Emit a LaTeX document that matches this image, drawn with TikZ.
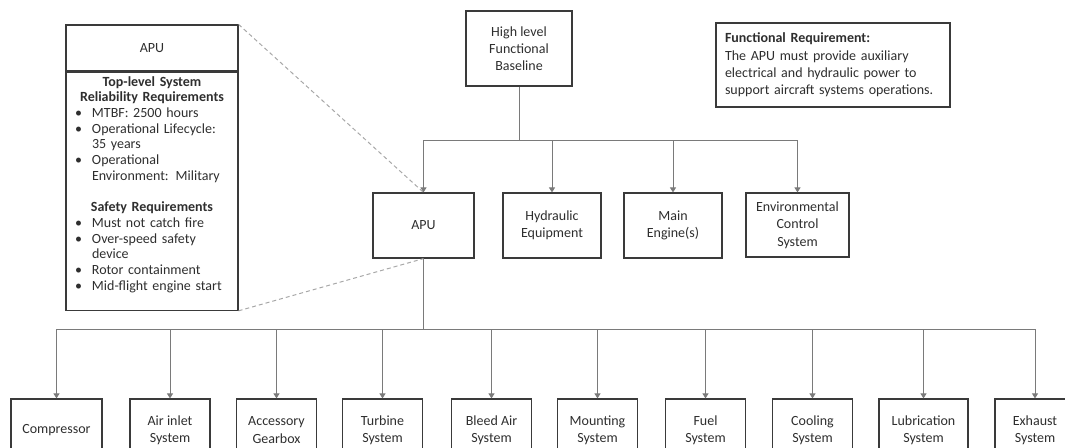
\documentclass[tikz,border=0pt]{standalone}
\usepackage{fontspec}
\setmainfont{Carlito}
\usetikzlibrary{arrows.meta}
\definecolor{boxline}{HTML}{3A3A3A}
\definecolor{txt}{HTML}{2E2E2E}
\definecolor{conn}{HTML}{7A7A7A}
\definecolor{dash}{HTML}{A8A8A8}
\newcommand{\blt}[1]{\par\noindent\makebox[26pt][l]{\hspace{9pt}\textbullet}#1}
\newcommand{\bltc}[1]{\par\noindent\hspace*{26pt}#1}
\tikzset{
  box/.style={draw=boxline, line width=1.2pt, text=txt, align=center, inner sep=2pt,
    font=\fontsize{14}{17.3}\selectfont},
  subbox/.style={box, minimum width=80pt, minimum height=62pt},
  connline/.style={draw=conn, line width=1pt},
  arrowline/.style={connline, -{Triangle[width=6pt,length=5pt]}},
  dashline/.style={draw=dash, line width=1pt, dash pattern=on 4pt off 3pt}
}
\begin{document}
\begin{tikzpicture}[x=1pt,y=-1pt]
\useasboundingbox (0,0) rectangle (1065,447);
% top level
\node[box, minimum width=106pt, minimum height=75pt] (hl) at (519,48.5) {High level\\Functional\\Baseline};
\node[box, text width=216pt, inner xsep=9pt, inner ysep=0pt, minimum height=84pt, align=left] (func) at (833,65)
  {\textbf{Functional Requirement:}\\The APU must provide auxiliary\\electrical and hydraulic power to\\support aircraft systems operations.};
% second level
\node[box, minimum width=101pt, minimum height=65pt] (apu) at (423.5,225.5) {APU};
\node[box, minimum width=98pt, minimum height=65pt] (hyd) at (552,225.5) {Hydraulic\\Equipment};
\node[box, minimum width=98pt, minimum height=65pt] (eng) at (673,225.5) {Main\\Engine(s)};
\node[box, minimum width=103pt, minimum height=64pt] (env) at (797.5,225) {Environmental\\Control\\System};
% detail box
\node[box, minimum width=172pt, minimum height=46pt] (lhead) at (152,48) {APU};
\node[box, minimum width=172pt, minimum height=238pt, anchor=north] (lbody) at (lhead.south) {};
\node[text=txt, text width=172pt, inner sep=0pt, anchor=north, align=left,
  font=\fontsize{14}{15.7}\selectfont] (ltext) at (152,76)
  {{\centering\textbf{Top-level System}\\\textbf{Reliability Requirements}\par}
   \blt{MTBF: 2500 hours}
   \blt{Operational Lifecycle:}
   \bltc{35 years}
   \blt{Operational}
   \bltc{Environment: Military}
   \par\vspace{15.7pt}
   {\centering\textbf{Safety Requirements}\par}
   \blt{Must not catch fire}
   \blt{Over-speed safety}
   \bltc{device}
   \blt{Rotor containment}
   \blt{Mid-flight engine start}\par};
% subsystems
\node[subbox, minimum width=91pt] (comp) at (56.5,430) {Compressor};
\node[subbox] (air) at (170,430) {Air inlet\\System};
\node[subbox] (acc) at (276.5,430) {Accessory\\Gearbox};
\node[subbox] (tur) at (382.5,430) {Turbine\\System};
\node[subbox] (bleed) at (491.5,430) {Bleed Air\\System};
\node[subbox] (mount) at (597.5,430) {Mounting\\System};
\node[subbox] (fuel) at (705.5,430) {Fuel\\System};
\node[subbox] (cool) at (812.5,430) {Cooling\\System};
\node[subbox, minimum width=89pt] (lub) at (923.5,430) {Lubrication\\System};
\node[subbox] (exh) at (1035,430) {Exhaust\\System};
% connectors
\coordinate (bus1) at (519,140);
\coordinate (bus2) at (423.5,329);
\draw[connline] (hl.south) -- (bus1);
\foreach \n in {apu,hyd,eng,env} \draw[arrowline] (bus1) -| (\n.north);
\draw[connline] (apu.south) -- (bus2);
\foreach \n in {comp,air,acc,tur,bleed,mount,fuel,cool,lub,exh} \draw[arrowline] (bus2) -| (\n.north);
% zoom lines
\draw[dashline] (lhead.north east) -- (apu.north);
\draw[dashline] (lbody.south east) -- (apu.south);
\end{tikzpicture}
\end{document}
